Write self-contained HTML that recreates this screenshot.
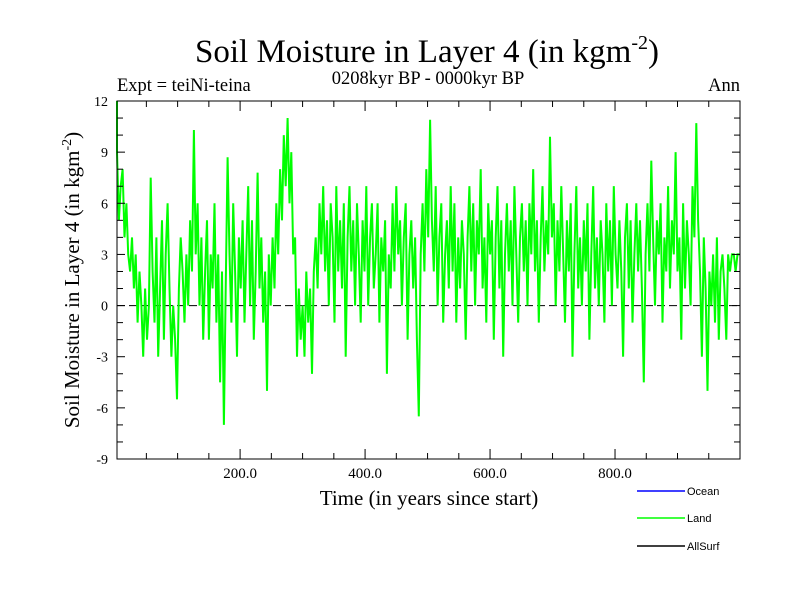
<!DOCTYPE html>
<html><head><meta charset="utf-8"><style>body{margin:0;background:#fff}svg{display:block}</style></head><body>
<svg width="800" height="600" xmlns="http://www.w3.org/2000/svg" font-family="Liberation Serif, serif">
<text x="427" y="62" font-size="33" text-anchor="middle">Soil Moisture in Layer 4 (in kgm<tspan dy="-13" font-size="20">-2</tspan><tspan dy="13">)</tspan></text>
<text x="428" y="84" font-size="18.5" text-anchor="middle">0208kyr BP - 0000kyr BP</text>
<text x="117" y="91" font-size="18.5">Expt = teiNi-teina</text>
<text x="740" y="91" font-size="18.5" text-anchor="end">Ann</text>
<g id="plot"></g>
<text x="429" y="505" font-size="21" text-anchor="middle">Time (in years since start)</text>
<text transform="translate(79,280) rotate(-90)" font-size="21" text-anchor="middle">Soil Moisture in Layer 4 (in kgm<tspan dy="-8" font-size="14">-2</tspan><tspan dy="8">)</tspan></text>
<g font-family="Liberation Sans, sans-serif" font-size="11">
<line x1="637" y1="491" x2="685" y2="491" stroke="#0000ff" stroke-width="1.5"/>
<text x="687" y="495">Ocean</text>
<line x1="637" y1="518" x2="685" y2="518" stroke="#00ff00" stroke-width="1.5"/>
<text x="687" y="522">Land</text>
<line x1="637" y1="546" x2="685" y2="546" stroke="#000" stroke-width="1.5"/>
<text x="687" y="550">AllSurf</text>
</g>
</svg>
<script>
const yTicks=[-9,-6,-3,0,3,6,9,12];
const xTickLabels=[200,400,600,800];
const step=3;
const landValues=[
12,9,5,7,8,4,6,3,2,4,
1,3,-1,2,0,-3,1,-2,0,7.5,
2,-1,4,-3,1,5,-2,3,6,1,
-3,0,-2,-5.5,1,4,2,-1,3,0,
5,2,10.3,3,6,0,4,-2,2,5,
-2,3,1,6,-1,3,-4.5,2,-7,1,
8.7,3,-1,6,2,-3,4,1,5,-1,
3,7,0,5,-2,2,7.8,1,4,-1,
2,-5,3,0,4,1,6,3,8,5,
10,7,11,6,9,3,4,-3,1,-2,
0,-3,2,-1,1,-4,2,4,1,6,
3,7,2,5,0,6,4,-1,7,2,
5,1,6,-3,4,7,2,5,0,6,
3,-1,5,2,7,0,4,6,1,3,
6,-1,4,2,5,-4,3,1,6,2,
7,3,5,0,4,6,-2,3,5,1,
4,-2,-6.5,3,6,2,8,4,10.9,5,
2,7,0,4,6,-1,3,5,1,7,
2,6,-1,4,1,5,3,-2,4,7,
2,6,0,5,3,8,1,4,-1,6,
3,5,-2,4,7,1,5,-3,3,6,
2,5,0,7,3,-1,4,6,2,5,
0,6,3,8,2,5,-1,4,7,2,
5,3,9.9,4,6,0,5,2,7,3,
-1,5,2,6,-3,3,7,1,4,0,
5,2,6,-2,3,7,1,4,0,5,
3,-1,6,2,5,0,7,3,1,5,
2,-3,4,6,1,5,-1,3,6,2,
5,1,-4.5,3,6,2,8.5,4,0,5,
3,6,-1,4,2,7,1,5,3,9,
2,4,-2,6,1,5,3,0,7,4,
10.7,5,2,-3,4,1,-5,2,0,3,
-1,4,-2,2,3,1,-2,3,2,3,
3,2,3,3];
const X0=117,X1=740,Y0=101,Y1=459,xmin=3,xmax=1000,ymin=-9,ymax=12;
const sx=v=>X0+(v-xmin)/(xmax-xmin)*(X1-X0);
const sy=v=>Y1-(v-ymin)/(ymax-ymin)*(Y1-Y0);
const NS='http://www.w3.org/2000/svg';
const g=document.getElementById('plot');
function mk(t,a){const e=document.createElementNS(NS,t);for(const k in a)e.setAttribute(k,a[k]);g.appendChild(e);return e;}
const zl=mk('line',{x1:X0,x2:X1,y1:sy(0),y2:sy(0),stroke:'#000','stroke-dasharray':'8,4','stroke-width':1});


let d='';
landValues.forEach((v,i)=>{const x=Math.min(xmax,Math.max(xmin,i*step));d+=(i?'L':'M')+sx(x).toFixed(1)+','+sy(v).toFixed(1);});
const ln=mk('path',{d:d,fill:'none',stroke:'#00ff00','stroke-width':2});


const fr=mk('rect',{x:X0,y:Y0,width:X1-X0,height:Y1-Y0,fill:'none',stroke:'#000','stroke-width':1});


for(let v=ymin;v<=ymax;v++){const y=sy(v),L=(v%3===0)?8:6;
 const t1=mk('line',{x1:X0,x2:X0+L,y1:y,y2:y,stroke:'#000'});
 
 
 const t2=mk('line',{x1:X1,x2:X1-L,y1:y,y2:y,stroke:'#000'});
 
 }
yTicks.forEach(v=>{const t=mk('text',{x:X0-9,y:sy(v)+5,'font-size':14,'text-anchor':'end'});t.textContent=String(v);
 
 });
for(let v=50;v<1000;v+=50){const x=sx(v),L=(v%200===0)?10:6;
 const a=mk('line',{x1:x,x2:x,y1:Y0,y2:Y0+L,stroke:'#000'});
 
 
 const b=mk('line',{x1:x,x2:x,y1:Y1,y2:Y1-L,stroke:'#000'});
 
 }
xTickLabels.forEach(v=>{const t=mk('text',{x:sx(v),y:Y1+19,'font-size':15,'text-anchor':'middle'});t.textContent=v.toFixed(1);
 
 });
</script>
</body></html>
